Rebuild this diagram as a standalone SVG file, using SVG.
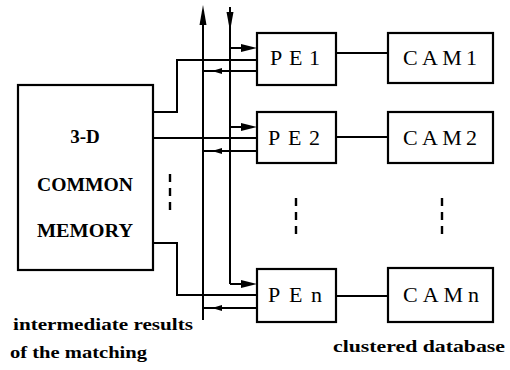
<svg xmlns="http://www.w3.org/2000/svg" width="510" height="370" viewBox="0 0 510 370">
<style>
.box{fill:#fff;stroke:#000;stroke-width:2.2}
.ln{fill:none;stroke:#000;stroke-width:2}
.dash{fill:none;stroke:#000;stroke-width:2.4;stroke-dasharray:8,6}
.ah{fill:#000;stroke:none}
</style>
<rect width="510" height="370" fill="#fff"/>
<g id="connectors">
<polyline class="ln" points="153,112 177,112 177,60 257,60"/>
<polyline class="ln" points="153,138 257,138"/>
<polyline class="ln" points="153,243 177,243 177,295 257,295"/>
<line class="ln" x1="203" y1="22" x2="203" y2="320"/>
<polygon class="ah" points="203,5 199.5,25 206.5,25"/>
<line class="ln" x1="230" y1="7" x2="230" y2="284"/>
<polygon class="ah" points="230,31 226.5,12 233.5,12"/>
<line class="ln" x1="230" y1="48" x2="250" y2="48"/>
<polygon class="ah" points="257,48 241,44 241,52"/>
<line class="ln" x1="230" y1="127" x2="250" y2="127"/>
<polygon class="ah" points="257,127 241,123 241,131"/>
<polyline class="ln" points="230,284 250,284"/>
<polygon class="ah" points="257,284 241,280 241,288"/>
<line class="ln" x1="257" y1="71" x2="203" y2="71"/>
<polygon class="ah" points="212,71 222,68 222,74"/>
<line class="ln" x1="257" y1="151" x2="203" y2="151"/>
<polygon class="ah" points="212,151 222,148 222,154"/>
<line class="ln" x1="257" y1="308" x2="203" y2="308"/>
<polygon class="ah" points="212,308 222,305 222,311"/>
<line class="ln" x1="336" y1="53" x2="388" y2="53"/>
<line class="ln" x1="336" y1="137" x2="388" y2="137"/>
<line class="ln" x1="336" y1="296" x2="388" y2="296"/>
</g>
<g id="memory" font-family="Liberation Serif, DejaVu Serif, serif" font-size="19" font-weight="bold">
<rect class="box" x="18" y="85" width="135" height="185"/>
<text x="85" y="143" text-anchor="middle">3-D</text>
<text x="85" y="191" text-anchor="middle" textLength="96" lengthAdjust="spacingAndGlyphs">COMMON</text>
<text x="85" y="237" text-anchor="middle" textLength="96" lengthAdjust="spacingAndGlyphs">MEMORY</text>
<line class="dash" x1="170" y1="174" x2="170" y2="214"/>
</g>
<g id="pe1" font-family="Liberation Serif, serif" font-size="22">
<rect class="box" x="257" y="33" width="79" height="52"/>
<text x="270" y="65" textLength="50">PE1</text>
</g>
<g id="pe2" font-family="Liberation Serif, serif" font-size="22">
<rect class="box" x="257" y="112" width="79" height="51"/>
<text x="268" y="145" textLength="52">PE2</text>
</g>
<g id="pe-dots">
<line class="dash" x1="296" y1="198" x2="296" y2="240"/>
</g>
<g id="pen" font-family="Liberation Serif, serif" font-size="22">
<rect class="box" x="257" y="269" width="79" height="53"/>
<text x="268" y="302" textLength="54">PEn</text>
</g>
<g id="cam1" font-family="Liberation Serif, serif" font-size="22">
<rect class="box" x="388" y="33" width="105" height="50"/>
<text x="403" y="65" textLength="74">CAM1</text>
</g>
<g id="cam2" font-family="Liberation Serif, serif" font-size="22">
<rect class="box" x="388" y="112" width="105" height="51"/>
<text x="403" y="145" textLength="74">CAM2</text>
</g>
<g id="cam-dots">
<line class="dash" x1="442" y1="198" x2="442" y2="238"/>
</g>
<g id="camn" font-family="Liberation Serif, serif" font-size="22">
<rect class="box" x="388" y="268" width="105" height="54"/>
<text x="403" y="302" textLength="76">CAMn</text>
</g>
<g id="captions" font-family="Liberation Serif, DejaVu Serif, serif" font-size="17" font-weight="bold">
<text x="13" y="330" textLength="180" lengthAdjust="spacingAndGlyphs">intermediate results</text>
<text x="10" y="358" textLength="137" lengthAdjust="spacingAndGlyphs">of the matching</text>
<text x="333" y="352" textLength="172" lengthAdjust="spacingAndGlyphs">clustered database</text>
</g>
</svg>
